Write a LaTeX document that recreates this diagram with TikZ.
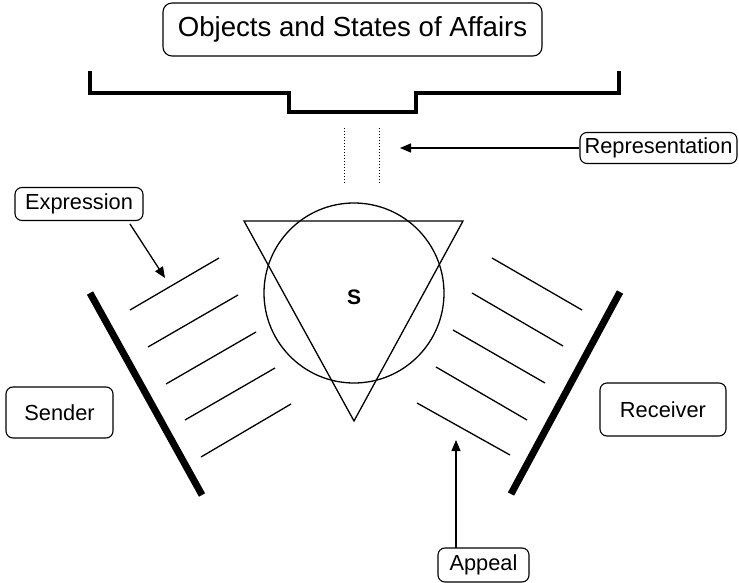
\documentclass[tikz,border=0pt]{standalone}
\usepackage{fontspec}
\setmainfont{Liberation Sans}
\usetikzlibrary{arrows.meta}
\begin{document}
\begin{tikzpicture}[x=1pt,y=-1pt,
  labelbox/.style={draw,line width=1.1pt,rounded corners=7pt,inner sep=0pt,
    font=\fontsize{21.8}{24}\selectfont},
  thin/.style={line width=1.3pt},
  bar/.style={line width=7pt},
  pointer/.style={line width=1.3pt,-{Triangle[length=11pt,width=9pt]}},
  bracket/.style={line width=4pt,line cap=butt,line join=miter}]
  \useasboundingbox (0,0) rectangle (739,583);

  % labels
  \node[labelbox,minimum width=379pt,minimum height=53pt,rounded corners=9pt,
    font=\fontsize{27.6}{30}\selectfont] (objects) at (352.5,29.5) {Objects and States of Affairs};
  \node[labelbox,minimum width=157pt,minimum height=31pt] (rep) at (658.5,148) {Representation};
  \node[labelbox,minimum width=128pt,minimum height=33pt] (expr) at (79,204) {Expression};
  \node[labelbox,minimum width=107pt,minimum height=51pt] (sender) at (59.5,412.5) {Sender};
  \node[labelbox,minimum width=126pt,minimum height=53pt] (receiver) at (663,409.5) {Receiver};
  \node[labelbox,minimum width=91pt,minimum height=34pt] (appeal) at (483.5,565) {Appeal};

  % bracket under the objects
  \draw[bracket] (90,71) -- (90,93) -- (289,93) -- (289,112) -- (416,112)
    -- (416,93) -- (619,93) -- (619,71);

  % dotted channel
  \draw[line width=1pt,dotted] (344,128) -- (344,184);
  \draw[line width=1pt,dotted] (379,128) -- (379,184);

  % the sign: circle and triangle
  \draw[thin] (354,293) circle[radius=90];
  \draw[thin,line join=miter] (244,221) -- (463,221) -- (354,421) -- cycle;
  \node[font=\bfseries\fontsize{21}{24}\selectfont] (s) at (354,297) {S};

  % sender side
  \draw[bar] (90,293) -- (202,495);
  \draw[thin] (130,310) -- (219,258);
  \draw[thin] (148,347) -- (238,295);
  \draw[thin] (166,384) -- (256,332);
  \draw[thin] (185,420) -- (275,368);
  \draw[thin] (201,457) -- (291,404);

  % receiver side
  \draw[bar] (620,292) -- (511,494);
  \draw[thin] (492,258) -- (582,310);
  \draw[thin] (472,293) -- (563,346);
  \draw[thin] (453,330) -- (545,383);
  \draw[thin] (436,367) -- (527,420);
  \draw[thin] (417,403) -- (510,455);

  % pointers
  \coordinate (reptip) at (400,148);
  \coordinate (exprtail) at (130,224);
  \coordinate (exprtip) at (165,278);
  \coordinate (appealtail) at (456,548);
  \coordinate (appealtip) at (456,440);
  \draw[pointer] (rep.west) -- (reptip);
  \draw[pointer] (exprtail) -- (exprtip);
  \draw[pointer] (appealtail) -- (appealtip);
\end{tikzpicture}
\end{document}
